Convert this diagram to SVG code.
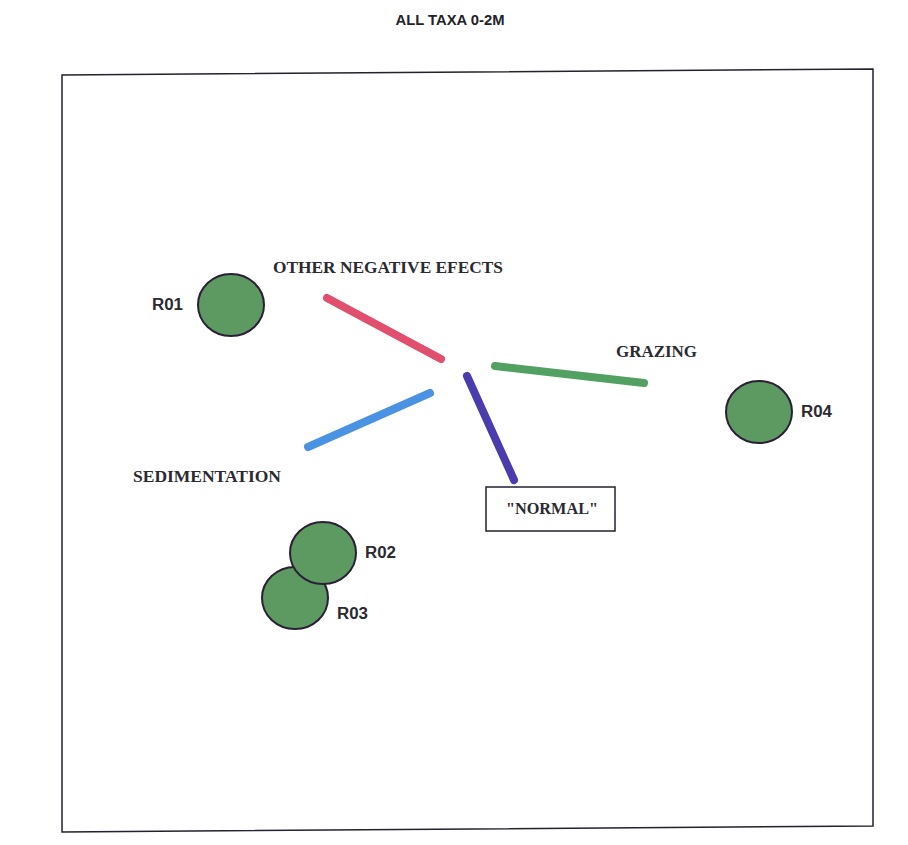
<svg xmlns="http://www.w3.org/2000/svg" width="908" height="845" viewBox="0 0 908 845">
<style>
.site ellipse{fill:#5c9a62;stroke:#2b1f35;stroke-width:2}
.sl{font-family:"Liberation Sans",Arial,sans-serif;font-weight:bold;font-size:16px;fill:#2a2a30}
.vl{font-family:"Liberation Serif","Times New Roman",serif;font-weight:bold;font-size:16px;fill:#2a2a30}
.vec{stroke-width:8;stroke-linecap:round;fill:none}
</style>
<rect width="908" height="845" fill="#ffffff"/>
<text x="450" y="25" text-anchor="middle" font-family="Liberation Sans,Arial,sans-serif" font-weight="bold" font-size="14" fill="#22222a" textLength="109" lengthAdjust="spacingAndGlyphs">ALL TAXA 0-2M</text>
<polygon points="62,75 873,69 873,826 62,832" fill="none" stroke="#222230" stroke-width="1.5"/>
<g id="connectors">
<line class="vec" x1="327" y1="298" x2="441" y2="359" stroke="#e0506e"/>
<line class="vec" x1="308" y1="447" x2="430" y2="393" stroke="#4a92e2"/>
<line class="vec" x1="467" y1="376" x2="514" y2="480" stroke="#4a3cac"/>
<line class="vec" x1="495" y1="366" x2="644" y2="383" stroke="#52a062"/>
</g>
<g id="R01" class="site"><ellipse cx="231" cy="305" rx="33" ry="31"/><text class="sl" x="152" y="310" textLength="31" lengthAdjust="spacingAndGlyphs">R01</text></g>
<g id="R03" class="site"><ellipse cx="295" cy="598" rx="33" ry="31"/><text class="sl" x="337" y="619" textLength="31" lengthAdjust="spacingAndGlyphs">R03</text></g>
<g id="R02" class="site"><ellipse cx="323" cy="553" rx="33" ry="31"/><text class="sl" x="365" y="558" textLength="31" lengthAdjust="spacingAndGlyphs">R02</text></g>
<g id="R04" class="site"><ellipse cx="759" cy="412" rx="33" ry="31"/><text class="sl" x="801" y="417" textLength="31" lengthAdjust="spacingAndGlyphs">R04</text></g>
<g id="other"><text class="vl" x="273" y="273" textLength="230" lengthAdjust="spacingAndGlyphs">OTHER NEGATIVE EFECTS</text></g>
<g id="sedimentation"><text class="vl" x="133" y="482" textLength="148" lengthAdjust="spacingAndGlyphs">SEDIMENTATION</text></g>
<g id="grazing"><text class="vl" x="616" y="357" textLength="81" lengthAdjust="spacingAndGlyphs">GRAZING</text></g>
<g id="normal"><rect x="486" y="487" width="129" height="44" fill="#ffffff" stroke="#222230" stroke-width="1.5"/><text class="vl" x="506" y="514" textLength="92" lengthAdjust="spacingAndGlyphs">"NORMAL"</text></g>
</svg>
